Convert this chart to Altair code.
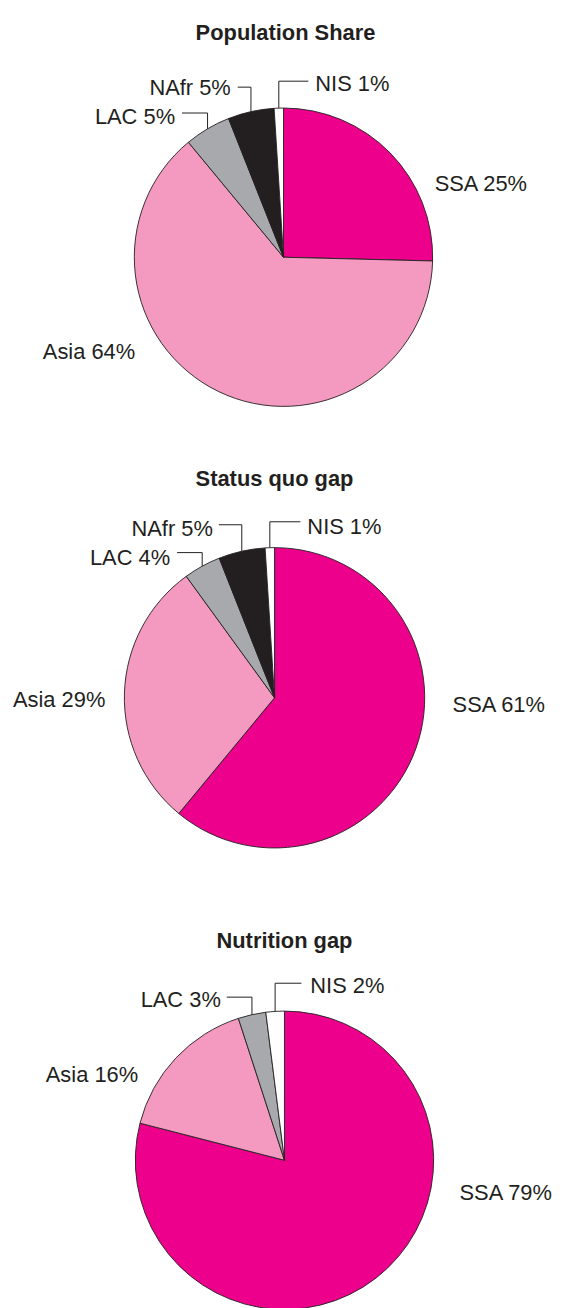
import math
import altair as alt
import pandas as pd

# ---- data ----
pies = ["Population Share", "Status quo gap", "Nutrition gap"]
regions = ["SSA", "Asia", "LAC", "NAfr", "NIS"]
pop_share = [25.4, 63.6, 5.0, 5.0, 1.0]
status_quo = [61, 29, 4, 5, 1]
nutrition = [79, 16, 3, 0, 2]
label_pop = ["SSA 25%", "Asia 64%", "LAC 5%", "NAfr 5%", "NIS 1%"]
label_sq = ["SSA 61%", "Asia 29%", "LAC 4%", "NAfr 5%", "NIS 1%"]
label_nut = ["SSA 79%", "Asia 16%", "LAC 3%", "", "NIS 2%"]

colors = ["#EC008C", "#F49AC1", "#A7A9AC", "#231F20", "#FFFFFF"]

# ---- layout (page pixels) ----
FONT = "Liberation Sans"
LSIZE = 22
TSIZE = 22
R = [150, 151, 150]
centers = [(285, 255), (276, 698), (286, 1163)]
title_pos = [(287, 30), (276, 478), (286, 943)]
# per label: (text x, align, text y, leader y or None, leader end x)
label_layout = [
    {"SSA": (437, "left", 181, None, None),
     "Asia": (43, "left", 350, None, None),
     "LAC": (176, "right", 114, 110, 183),
     "NAfr": (232, "right", 85, 84, 239),
     "NIS": (317, "left", 81, 78, 310)},
    {"SSA": (455, "left", 705, None, None),
     "Asia": (13, "left", 700, None, None),
     "LAC": (171, "right", 557, 552, 178),
     "NAfr": (214, "right", 528, 524, 220),
     "NIS": (309, "left", 526, 521, 302)},
    {"SSA": (462, "left", 1196, None, None),
     "Asia": (46, "left", 1077, None, None),
     "LAC": (222, "right", 1002, 999, 228),
     "NAfr": None,
     "NIS": (312, "left", 988, 985, 303)},
]

values_all = [pop_share, status_quo, nutrition]
labels_all = [label_pop, label_sq, label_nut]

slice_rows, text_rows, seg_rows, title_rows = [], [], [], []
for p, (name, vals, labs) in enumerate(zip(pies, values_all, labels_all)):
    cx, cy = centers[p]
    title_rows.append({"x": title_pos[p][0], "y": title_pos[p][1], "t": name})
    cum = 0.0
    for i, (reg, v, lab) in enumerate(zip(regions, vals, labs)):
        if v > 0:
            slice_rows.append({"pie": p, "region": reg, "value": v, "idx": i})
        mid = (cum + v / 2) / 100 * 2 * math.pi
        cum += v
        lay = label_layout[p][reg]
        if lay is None or not lab:
            continue
        tx, align, ty, ly, lx = lay
        text_rows.append({"x": tx, "y": ty, "t": lab, "align": align})
        if ly is not None:
            ex = cx + R[p] * math.sin(mid)
            ey = cy - R[p] * math.cos(mid)
            seg_rows.append({"x": ex, "x2": ex, "y": ey, "y2": ly})
            seg_rows.append({"x": ex, "x2": lx, "y": ly, "y2": ly})

slices = pd.DataFrame(slice_rows)
texts = pd.DataFrame(text_rows)
segs = pd.DataFrame(seg_rows)
titles = pd.DataFrame(title_rows)

xs = alt.Scale(domain=[8, 554])
ys = alt.Scale(domain=[8, 1300], reverse=True)
color_scale = alt.Scale(domain=regions, range=colors)

layers = []
for p in range(3):
    cx, cy = centers[p]
    arc = alt.Chart(slices).transform_filter(alt.datum.pie == p).mark_arc(
        radius=R[p], stroke="#231F20", strokeWidth=0.9
    ).encode(
        theta=alt.Theta("value:Q", stack=True,
                        scale=alt.Scale(domain=[0, 100], range=[0, 2 * math.pi])),
        color=alt.Color("region:N", scale=color_scale, legend=None),
        order=alt.Order("idx:Q"),
        x=alt.datum(cx, scale=xs, axis=None),
        y=alt.datum(cy, scale=ys, axis=None),
    )
    layers.append(arc)

rules = alt.Chart(segs).mark_rule(color="#231F20", strokeWidth=1).encode(
    x=alt.X("x:Q", scale=xs, axis=None), x2="x2:Q",
    y=alt.Y("y:Q", scale=ys, axis=None), y2="y2:Q",
)
left_text = alt.Chart(texts).transform_filter(alt.datum.align == "left").mark_text(
    align="left", baseline="middle", font=FONT, fontSize=LSIZE, color="#231F20"
).encode(x=alt.X("x:Q", scale=xs, axis=None), y=alt.Y("y:Q", scale=ys, axis=None), text="t:N")
right_text = alt.Chart(texts).transform_filter(alt.datum.align == "right").mark_text(
    align="right", baseline="middle", font=FONT, fontSize=LSIZE, color="#231F20"
).encode(x=alt.X("x:Q", scale=xs, axis=None), y=alt.Y("y:Q", scale=ys, axis=None), text="t:N")
title_text = alt.Chart(titles).mark_text(
    align="center", baseline="middle", font=FONT, fontSize=TSIZE, fontWeight="bold", color="#231F20"
).encode(x=alt.X("x:Q", scale=xs, axis=None), y=alt.Y("y:Q", scale=ys, axis=None), text="t:N")

chart = alt.layer(*layers, rules, left_text, right_text, title_text).properties(
    width=546, height=1292, padding=0,
    view=alt.ViewConfig(stroke="transparent", strokeWidth=0),
).configure_view(strokeWidth=0, stroke="transparent").configure(background="white")

chart.save("out.html", embed_options={"renderer": "svg", "actions": False})
